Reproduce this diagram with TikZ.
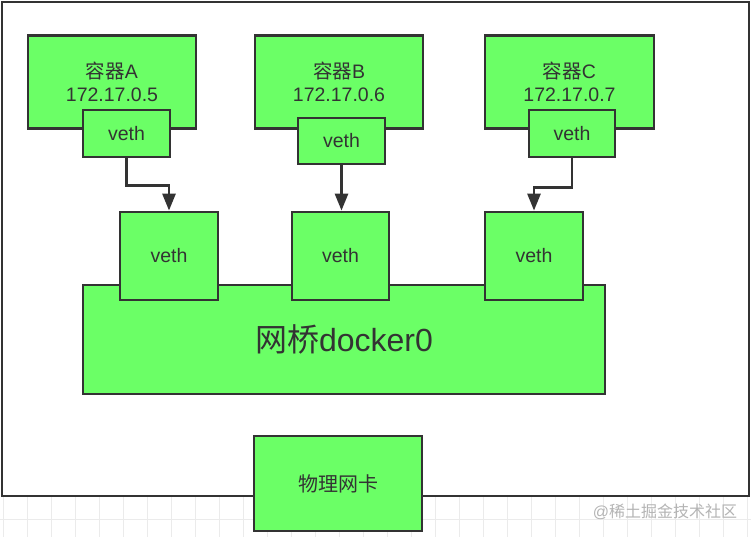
\documentclass[tikz,border=0pt]{standalone}
\usepackage{fontspec}
\setmainfont{Liberation Sans}
\newfontfamily\cjk{Noto Sans CJK SC}
\usetikzlibrary{arrows.meta}
\definecolor{boxgreen}{HTML}{6BFF66}
\definecolor{edge}{HTML}{333333}
\definecolor{gridgray}{HTML}{EBEBEB}
\definecolor{markgray}{HTML}{B4B4B4}
\begin{document}
\begin{tikzpicture}[x=1pt,y=-1pt,
  box/.style={draw=edge, fill=boxgreen, line width=2.8pt, inner sep=0pt, text=edge, align=center},
  lbl/.style={font=\fontsize{19.5}{23.5}\selectfont},
  link/.style={draw=edge, line width=2.8pt, -{Triangle[length=17pt,width=13pt]}}]
\useasboundingbox (0,0) rectangle (751,537);
\fill[white] (0,0) rectangle (751,537);
% faint background grid below the frame
\foreach \gx in {3,27,...,751} {\draw[gridgray, line width=0.8pt] (\gx,497) -- (\gx,537);}
\draw[gridgray, line width=0.8pt] (0,519) -- (751,519);
% outer frame
\node[draw=edge, line width=2.8pt, minimum width=747pt, minimum height=494pt, inner sep=0pt] (frame) at (375.5,249) {};
% containers
\node[box, lbl, minimum width=168pt, minimum height=93pt] (ca) at (112,82) {{\cjk 容器}A\\172.17.0.5};
\node[box, lbl, minimum width=168pt, minimum height=93pt] (cb) at (339,82) {{\cjk 容器}B\\172.17.0.6};
\node[box, lbl, minimum width=169pt, minimum height=93pt] (cc) at (569.5,82) {{\cjk 容器}C\\172.17.0.7};
% container veths
\node[box, lbl, minimum width=87pt, minimum height=47pt] (va) at (126.5,133.5) {veth};
\node[box, lbl, minimum width=87pt, minimum height=46pt] (vb) at (341.5,141) {veth};
\node[box, lbl, minimum width=86pt, minimum height=47pt] (vc) at (572,133.5) {veth};
% bridge
\node[box, minimum width=522pt, minimum height=109pt, font=\fontsize{32}{36}\selectfont] (br) at (344,339.5) {{\cjk 网桥}docker0};
\node[box, lbl, minimum width=98pt, minimum height=88pt] (b1) at (169,256) {veth};
\node[box, lbl, minimum width=97pt, minimum height=88pt] (b2) at (340.5,256) {veth};
\node[box, lbl, minimum width=98pt, minimum height=88pt] (b3) at (534,256) {veth};
% physical NIC
\node[box, minimum width=168pt, minimum height=95pt, font=\fontsize{20}{24}\selectfont] (nic) at (338,483.5) {\cjk 物理网卡};
% connectors
\draw[link] (va.south) -- ++(0,27) -| (b1.north);
\draw[link] (vb.south) -- (vb.south |- b2.north);
\draw[link] (vc.south) -- ++(0,29) -| (b3.north);
% watermark
\node[text=markgray, font=\fontsize{16}{19}\selectfont, inner sep=0pt] (wm) at (665,512) {@{\cjk 稀土掘金技术社区}};
\end{tikzpicture}
\end{document}
